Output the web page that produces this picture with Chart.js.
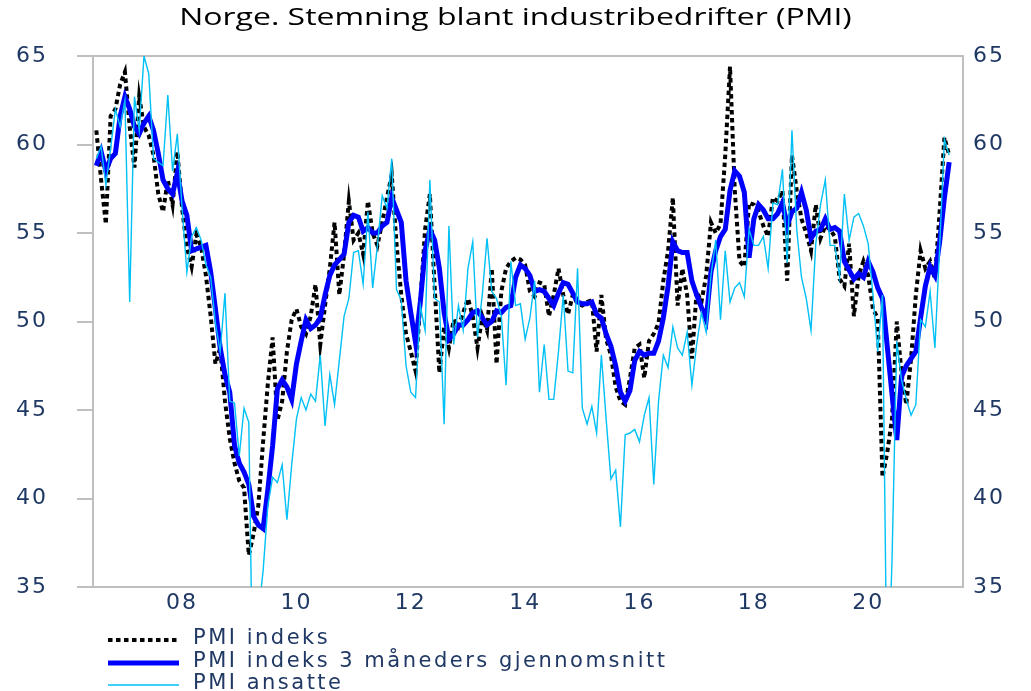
<!DOCTYPE html>
<html lang="no">
<head>
<meta charset="utf-8">
<title>Norge. Stemning blant industribedrifter (PMI)</title>
<script src="https://cdn.jsdelivr.net/npm/chart.js@4/dist/chart.umd.min.js"></script>
<style>
    html, body { margin: 0; padding: 0; background: #ffffff; }
</style>
</head>
<body>
<canvas id="pmiChart" width="1031" height="691"></canvas>
<script>
// måneder regnet fra januar 2000; første observasjon er juli 2006
const firstMonth = 78;
const yearTickLabels = ["08", "10", "12", "14", "16", "18", "20"];
const chartTitle = "Norge. Stemning blant industribedrifter (PMI)";
const seriesLabels = ["PMI indeks", "PMI indeks 3 måneders gjennomsnitt", "PMI ansatte"];

const pmiIndeks = [
    60.8, 58.0, 55.5, 61.6, 62.0, 63.4, 64.1, 61.0, 58.7, 62.7,
    61.0, 60.5, 59.4, 57.2, 56.2, 58.0, 56.6, 59.6, 56.4, 54.2,
    53.1, 54.9, 54.2, 52.6, 50.3, 47.6, 48.5, 45.5, 43.4, 42.0,
    41.0, 40.6, 36.8, 38.0, 39.6, 43.2, 46.5, 49.1, 44.4, 45.5,
    48.3, 50.1, 50.7, 49.7, 49.3, 50.3, 52.1, 48.7, 50.9, 53.0,
    55.6, 51.5, 53.8, 56.8, 54.6, 55.0, 53.8, 56.8, 55.0, 54.3,
    55.6, 57.0, 58.3, 54.4, 51.5, 49.3, 48.3, 47.2, 51.1, 55.2,
    57.2, 52.0, 47.1, 49.7, 48.5, 50.1, 49.7, 50.5, 51.3, 50.3,
    48.5, 50.3, 49.5, 53.0, 47.6, 51.7, 53.0, 53.4, 53.6, 53.5,
    53.2, 51.7, 51.4, 52.2, 52.1, 50.3, 51.5, 53.0, 51.5, 50.4,
    51.5, 51.0, 50.9, 51.1, 51.2, 48.3, 51.5, 49.0, 48.1, 46.3,
    45.5, 45.3, 46.8, 48.5, 48.7, 46.8, 48.9, 49.3, 49.9, 52.3,
    54.0, 57.0, 50.9, 53.0, 51.5, 47.9, 51.7, 51.1, 52.6, 55.6,
    55.0, 55.5, 59.4, 64.4, 57.4, 53.4, 53.1, 56.7, 56.6, 56.2,
    55.4, 54.8, 57.0, 56.8, 57.4, 52.3, 59.4, 57.4, 55.8, 55.0,
    54.0, 56.6, 54.7, 55.4, 55.2, 54.8, 52.4, 52.0, 54.4, 50.3,
    52.6, 53.4, 52.6, 50.7, 50.2, 41.2, 42.6, 44.5, 50.0, 47.1,
    45.3, 47.9, 51.5, 54.0, 53.0, 53.4, 52.4, 56.2, 60.4, 59.4
];

const pmiSnitt = [
    58.8, 59.6, 58.5, 59.2, 59.5, 61.6, 62.7, 62.0, 61.0, 60.6,
    61.2, 61.6, 60.8, 59.5, 58.0, 57.5, 57.2, 58.4, 56.8, 56.0,
    54.0, 54.1, 54.2, 54.3, 52.8, 50.7, 48.5, 47.0, 46.0, 43.0,
    42.0, 41.5, 40.8, 39.0, 38.5, 38.3, 40.5, 43.0, 46.2, 46.7,
    46.3, 45.6, 47.6, 48.9, 50.1, 49.6, 49.8, 50.2, 51.5, 52.6,
    53.2, 53.5, 53.8, 55.6, 56.0, 55.9, 55.1, 55.3, 55.0, 55.0,
    55.4, 55.6, 57.0, 56.3, 55.6, 52.3, 50.5, 48.8, 51.1, 54.0,
    55.2, 54.6, 53.0, 50.5, 49.0, 49.3, 49.8, 49.8, 50.1, 50.5,
    50.6, 50.2, 49.8, 50.0, 50.6, 50.5, 50.8, 50.9, 52.5, 53.2,
    53.0, 52.6, 51.7, 51.8, 51.7, 51.3, 50.9, 51.6, 52.2, 52.1,
    51.6, 51.1, 51.0, 51.0, 51.1, 50.4, 50.2, 49.3, 48.6, 47.5,
    46.0, 45.5, 46.1, 47.8, 48.3, 48.1, 48.2, 48.2, 48.9, 50.2,
    52.0, 54.5, 54.0, 53.9, 53.9, 52.3, 51.5, 50.8, 50.1, 52.8,
    54.0, 54.8, 55.2, 57.4, 58.5, 58.2, 57.3, 53.6, 55.8, 56.6,
    56.3, 55.8, 55.8, 56.1, 56.7, 55.4, 56.2, 56.4, 57.3, 56.3,
    54.7, 55.1, 55.2, 55.8, 55.2, 55.3, 55.1, 53.4, 52.9, 52.4,
    52.7, 52.5, 53.4, 52.8, 51.9, 51.3, 48.6, 45.9, 43.3, 46.9,
    47.5, 47.9, 48.3, 50.2, 52.0, 53.1, 52.6, 54.5, 57.0, 59.0
];

const pmiAnsatte = [
    59.2, 59.9, 57.7, 59.8, 62.0, 61.0, 62.5, 51.1, 62.7, 60.8,
    65.0, 64.0, 59.2, 59.0, 58.8, 62.8, 58.5, 60.6, 56.4, 52.8,
    54.8, 55.3, 54.6, 53.2, 52.5, 49.9, 48.3, 51.6, 45.5, 45.4,
    42.4, 45.1, 44.3, 26.0, 33.5, 35.9, 39.6, 41.2, 40.9, 41.9,
    38.8, 41.9, 44.5, 45.7, 45.0, 45.9, 45.5, 48.1, 44.1, 47.0,
    45.3, 47.8, 50.3, 51.3, 53.9, 54.0, 52.1, 56.2, 51.9, 54.3,
    57.1, 56.4, 59.2, 51.8, 51.2, 47.5, 46.0, 45.7, 50.9, 49.5,
    58.0, 51.3, 51.1, 44.2, 55.4, 48.7, 50.9, 49.5, 53.0, 54.5,
    49.1, 51.5, 54.7, 51.7, 51.3, 50.3, 46.4, 53.4, 50.9, 51.0,
    49.0, 50.2, 52.3, 46.0, 48.7, 45.6, 45.6, 48.3, 51.5, 47.2,
    47.1, 53.0, 45.1, 44.2, 45.2, 43.7, 48.1, 44.5, 41.1, 41.6,
    38.4, 43.6, 43.7, 43.9, 43.2, 44.7, 45.7, 40.8, 45.5, 48.1,
    47.4, 49.7, 48.5, 48.1, 49.4, 46.4, 48.7, 50.5, 49.4, 52.6,
    54.6, 50.1, 54.0, 51.1, 51.9, 52.2, 51.4, 55.2, 54.3, 54.3,
    54.8, 53.0, 56.7, 56.6, 58.6, 53.3, 60.8, 55.2, 52.5, 51.3,
    49.5, 54.4, 56.6, 58.0, 54.3, 54.3, 52.5, 57.2, 54.6, 55.9,
    56.1, 55.4, 54.4, 51.5, 48.3, 51.5, 28.0, 36.5, 48.9, 46.7,
    45.6, 44.7, 45.3, 50.1, 49.7, 51.7, 48.5, 54.2, 60.3, 59.4
];

const months = pmiIndeks.map((_, i) => firstMonth + i);
const toPoints = (values) => values.map((value, i) => ({ x: months[i], y: value }));

const axisColor = "#bfbfbf";
const labelColor = "#1f3864";
const tickFont = { family: "DejaVu Sans", size: 22 };

// Excel-bildet er strukket litt i bredden, så teksten får litt luft
const letterSpacingPlugin = {
    id: "letterSpacing",
    beforeDraw: (chart) => {
        chart.ctx.letterSpacing = "2px";
    },
};

const stretchedTitlePlugin = {
    id: "stretchedTitle",
    afterDraw: (chart) => {
        const { ctx, width } = chart;
        ctx.save();
        ctx.letterSpacing = "0px";
        ctx.font = "23px 'Open Sans'";
        ctx.fillStyle = "#000000";
        ctx.textAlign = "center";
        ctx.textBaseline = "middle";
        ctx.translate(width / 2, 18);
        ctx.scale(1.39, 1);
        ctx.fillText(chartTitle, 0, 0);
        ctx.restore();
    },
};

const framePlugin = {
    id: "frame",
    beforeDatasetsDraw: (chart) => {
        const { ctx, chartArea } = chart;
        ctx.save();
        ctx.strokeStyle = axisColor;
        ctx.lineWidth = 2;
        ctx.strokeRect(chartArea.left, chartArea.top, chartArea.right - chartArea.left, chartArea.bottom - chartArea.top);
        ctx.restore();
    },
};

const stackedLegendPlugin = {
    id: "stackedLegend",
    afterDraw: (chart) => {
        const { ctx } = chart;
        const rowY = [640, 663, 685];
        ctx.save();
        ctx.letterSpacing = "2.5px";
        chart.data.datasets.forEach((dataset, index) => {
            const y = rowY[index];
            ctx.beginPath();
            ctx.strokeStyle = dataset.borderColor;
            ctx.lineWidth = dataset.borderWidth;
            ctx.lineCap = "butt";
            ctx.setLineDash(dataset.borderDash || []);
            ctx.moveTo(108, y);
            ctx.lineTo(179, y);
            ctx.stroke();
            ctx.setLineDash([]);
            ctx.fillStyle = labelColor;
            ctx.font = "21px 'DejaVu Sans'";
            ctx.textBaseline = "middle";
            ctx.textAlign = "left";
            ctx.fillText(dataset.label, 193, y - 1);
        });
        ctx.restore();
    },
};

new Chart(document.getElementById("pmiChart"), {
    type: "line",
    data: {
        datasets: [
            {
                label: seriesLabels[0],
                data: toPoints(pmiIndeks),
                borderColor: "#000000",
                borderWidth: 4,
                borderDash: [4.5, 3.5],
                borderCapStyle: "butt",
                pointRadius: 0,
                tension: 0,
                order: 2,
            },
            {
                label: seriesLabels[1],
                data: toPoints(pmiSnitt),
                borderColor: "#0000ff",
                borderWidth: 5,
                pointRadius: 0,
                tension: 0,
                order: 1,
            },
            {
                label: seriesLabels[2],
                data: toPoints(pmiAnsatte),
                borderColor: "#00c0f5",
                borderWidth: 1.4,
                pointRadius: 0,
                tension: 0,
                order: 0,
            },
        ],
    },
    options: {
        responsive: false,
        animation: false,
        devicePixelRatio: 1,
        layout: { padding: { top: 56 } },
        plugins: {
            legend: { display: false },
            tooltip: { enabled: false },
            title: { display: false },
        },
        scales: {
            x: {
                type: "linear",
                min: 77.3,
                max: 259.9,
                grid: { display: false, drawTicks: false },
                border: { display: true, color: axisColor, width: 2 },
                afterBuildTicks: (scale) => {
                    scale.ticks = yearTickLabels.map((label) => ({ value: Number(label) * 12 }));
                },
                ticks: {
                    autoSkip: false,
                    maxRotation: 0,
                    padding: 3,
                    color: labelColor,
                    font: tickFont,
                    callback: (value) => String(value / 12).padStart(2, "0"),
                },
                afterFit: (scale) => {
                    scale.height = 104;
                },
            },
            y: {
                position: "left",
                min: 35,
                max: 65,
                ticks: { stepSize: 5, padding: 29, color: labelColor, font: tickFont },
                grid: {
                    drawOnChartArea: false,
                    drawTicks: true,
                    tickLength: 16,
                    color: axisColor,
                    lineWidth: 2,
                },
                border: { display: true, color: axisColor, width: 2 },
                afterFit: (scale) => {
                    scale.width = 93;
                },
            },
            y2: {
                position: "right",
                min: 35,
                max: 65,
                ticks: { stepSize: 5, padding: 10, color: labelColor, font: tickFont },
                grid: { display: false, drawTicks: false },
                border: { display: true, color: axisColor, width: 2 },
                afterFit: (scale) => {
                    scale.width = 68;
                },
            },
        },
    },
    plugins: [letterSpacingPlugin, framePlugin, stretchedTitlePlugin, stackedLegendPlugin],
});
</script>
</body>
</html>
